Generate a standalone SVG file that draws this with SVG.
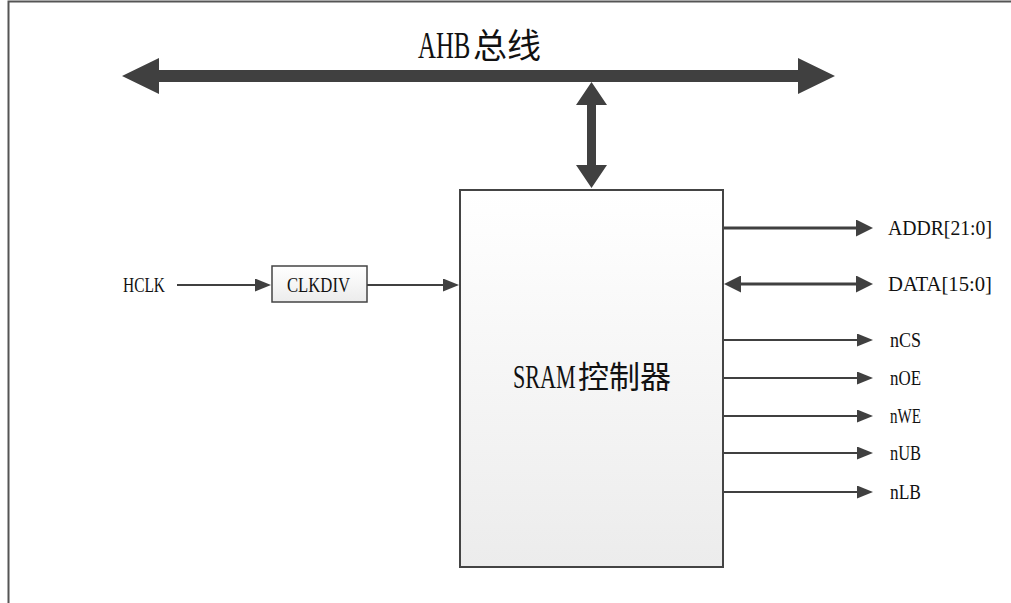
<svg xmlns="http://www.w3.org/2000/svg" width="1011" height="603" viewBox="0 0 1011 603">
  <defs>
    <linearGradient id="boxfill" x1="0" y1="0" x2="0" y2="1">
      <stop offset="0" stop-color="#ffffff"/>
      <stop offset="1" stop-color="#ececec"/>
    </linearGradient>
    <marker id="ah" markerUnits="userSpaceOnUse" markerWidth="16" markerHeight="13" refX="4" refY="6.5" orient="auto-start-reverse">
      <path d="M0,0 L16,6.5 L0,13 Z" fill="#404040"/>
    </marker>
    <marker id="ahb" markerUnits="userSpaceOnUse" markerWidth="17" markerHeight="17" refX="4" refY="8.5" orient="auto-start-reverse">
      <path d="M0,0 L17,8.5 L0,17 Z" fill="#404040"/>
    </marker>
    <style>
      .lbl { font-family: "Liberation Serif", "Noto Sans CJK SC", serif; font-size: 21px; fill: #111; }
      .cn { font-family: "Noto Sans CJK SC", sans-serif; fill: #111; }
      .thin { stroke: #404040; stroke-width: 2; fill: none; }
      .thick { stroke: #404040; stroke-width: 3; fill: none; }
      .box { stroke: #444; stroke-width: 2; fill: url(#boxfill); }
    </style>
  </defs>
  <rect width="1011" height="603" fill="#ffffff"/>
  <path d="M8.5,603 L8.5,1.5 L1011,1.5" fill="none" stroke="#555" stroke-width="2"/>

  <g id="bus-label">
    <text transform="translate(418,58) scale(0.67,1)" x="0" y="0" class="lbl" style="font-size:37px">AHB</text>
    <text x="473" y="58" class="cn" style="font-size:34px">总线</text>
  </g>

  <g id="sram">
    <rect class="box" x="460" y="190" width="263" height="377"/>
    <text transform="translate(513,388) scale(0.67,1)" x="0" y="0" class="lbl" style="font-size:33px">SRAM</text>
    <text x="578" y="388" class="cn" style="font-size:31px">控制器</text>
  </g>

  <g id="clkdiv">
    <rect class="box" x="272" y="266" width="95" height="36" style="stroke-width:1.5"/>
    <text x="287" y="292" class="lbl" textLength="63" lengthAdjust="spacingAndGlyphs">CLKDIV</text>
  </g>

  <g id="hclk">
    <text x="123" y="292" class="lbl" textLength="42" lengthAdjust="spacingAndGlyphs">HCLK</text>
  </g>

  <g id="signals">
    <text x="888" y="235" class="lbl" textLength="104" lengthAdjust="spacingAndGlyphs">ADDR[21:0]</text>
    <text x="888" y="291" class="lbl" textLength="104" lengthAdjust="spacingAndGlyphs">DATA[15:0]</text>
    <text x="890" y="347" class="lbl" textLength="31" lengthAdjust="spacingAndGlyphs">nCS</text>
    <text x="890" y="385" class="lbl" textLength="31" lengthAdjust="spacingAndGlyphs">nOE</text>
    <text x="890" y="423" class="lbl" textLength="31" lengthAdjust="spacingAndGlyphs">nWE</text>
    <text x="890" y="460" class="lbl" textLength="31" lengthAdjust="spacingAndGlyphs">nUB</text>
    <text x="890" y="499" class="lbl" textLength="31" lengthAdjust="spacingAndGlyphs">nLB</text>
  </g>

  <g id="connectors">
    <path d="M122,76 L159,58 L159,70 L798,70 L798,58 L835,76 L798,94 L798,82 L159,82 L159,94 Z" fill="#404040"/>
    <path d="M591.5,82 L607,105 L596,105 L596,165 L607,165 L591.5,188 L576,165 L587,165 L587,105 L576,105 Z" fill="#404040"/>
    <line class="thin" x1="177" y1="285" x2="259" y2="285" marker-end="url(#ah)"/>
    <line class="thin" x1="367" y1="285" x2="447" y2="285" marker-end="url(#ah)"/>
    <line class="thick" x1="724" y1="228" x2="860" y2="228" marker-end="url(#ahb)"/>
    <line class="thick" x1="737" y1="284" x2="860" y2="284" marker-start="url(#ahb)" marker-end="url(#ahb)"/>
    <line class="thin" x1="724" y1="340" x2="861" y2="340" marker-end="url(#ah)"/>
    <line class="thin" x1="724" y1="378" x2="861" y2="378" marker-end="url(#ah)"/>
    <line class="thin" x1="724" y1="416" x2="861" y2="416" marker-end="url(#ah)"/>
    <line class="thin" x1="724" y1="453" x2="861" y2="453" marker-end="url(#ah)"/>
    <line class="thin" x1="724" y1="492" x2="861" y2="492" marker-end="url(#ah)"/>
  </g>
</svg>
